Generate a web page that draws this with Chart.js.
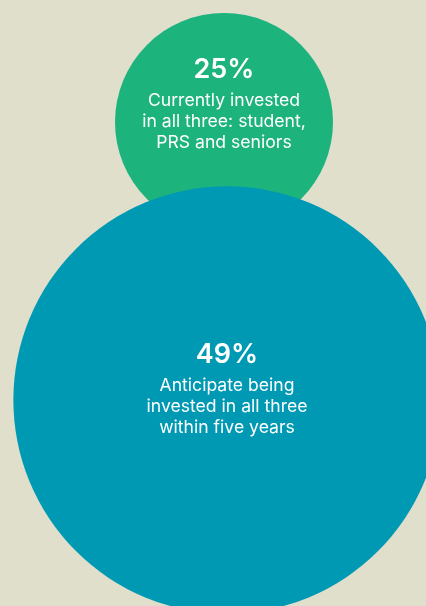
<!DOCTYPE html>
<html lang="en">
<head>
    <meta charset="UTF-8">
    <title>Investment across sectors</title>
    <script src="https://cdn.jsdelivr.net/npm/chart.js"></script>
    <style>
        html, body { margin: 0; padding: 0; background: #dfdfcc; }
        #wrap { width: 426px; height: 606px; }
    </style>
</head>
<body>
    <div id="wrap"><canvas id="bubbleChart" width="426" height="606"></canvas></div>

    <script>
        // data
        const percentages = [25, 49];
        const captions = [
            ['Currently invested', 'in all three: student,', 'PRS and seniors'],
            ['Anticipate being', 'invested in all three', 'within five years']
        ];
        const centreX = [224, 227];
        const centreY = [122, 400];

        // styles
        const colours = ['#1db37c', '#0099b3'];
        const pxPerPercent = 4.36;
        const textShift = [-20, -13];
        const fontFamily = 'Inter, "Noto Sans", sans-serif';

        const captionPlugin = {
            id: 'captions',
            afterDatasetsDraw(chart) {
                const ctx = chart.ctx;
                const meta = chart.getDatasetMeta(0);
                meta.data.forEach((el, i) => {
                    const cx = el.x;
                    const cy = el.y + textShift[i];
                    ctx.save();
                    ctx.fillStyle = '#ffffff';
                    ctx.textAlign = 'center';
                    ctx.textBaseline = 'alphabetic';
                    ctx.font = '600 27px ' + fontFamily;
                    ctx.fillText(percentages[i] + '%', cx, cy - 24);
                    ctx.font = '17.6px ' + fontFamily;
                    captions[i].forEach((line, j) => {
                        ctx.fillText(line, cx, cy + 4 + j * 21);
                    });
                    ctx.restore();
                });
            }
        };

        const ctx = document.getElementById('bubbleChart').getContext('2d');
        new Chart(ctx, {
            type: 'bubble',
            data: {
                datasets: [{
                    data: percentages.map((p, i) => ({ x: centreX[i], y: centreY[i], v: p })),
                    backgroundColor: colours,
                    borderWidth: 0,
                    radius: c => c.raw.v * pxPerPercent,
                    clip: false
                }]
            },
            options: {
                responsive: false,
                animation: false,
                events: [],
                layout: { padding: 0, autoPadding: false },
                plugins: {
                    legend: { display: false },
                    tooltip: { enabled: false }
                },
                scales: {
                    x: { type: 'linear', min: 0, max: 426, display: false },
                    y: { type: 'linear', min: 0, max: 606, reverse: true, display: false }
                }
            },
            plugins: [captionPlugin]
        });
    </script>
</body>
</html>
